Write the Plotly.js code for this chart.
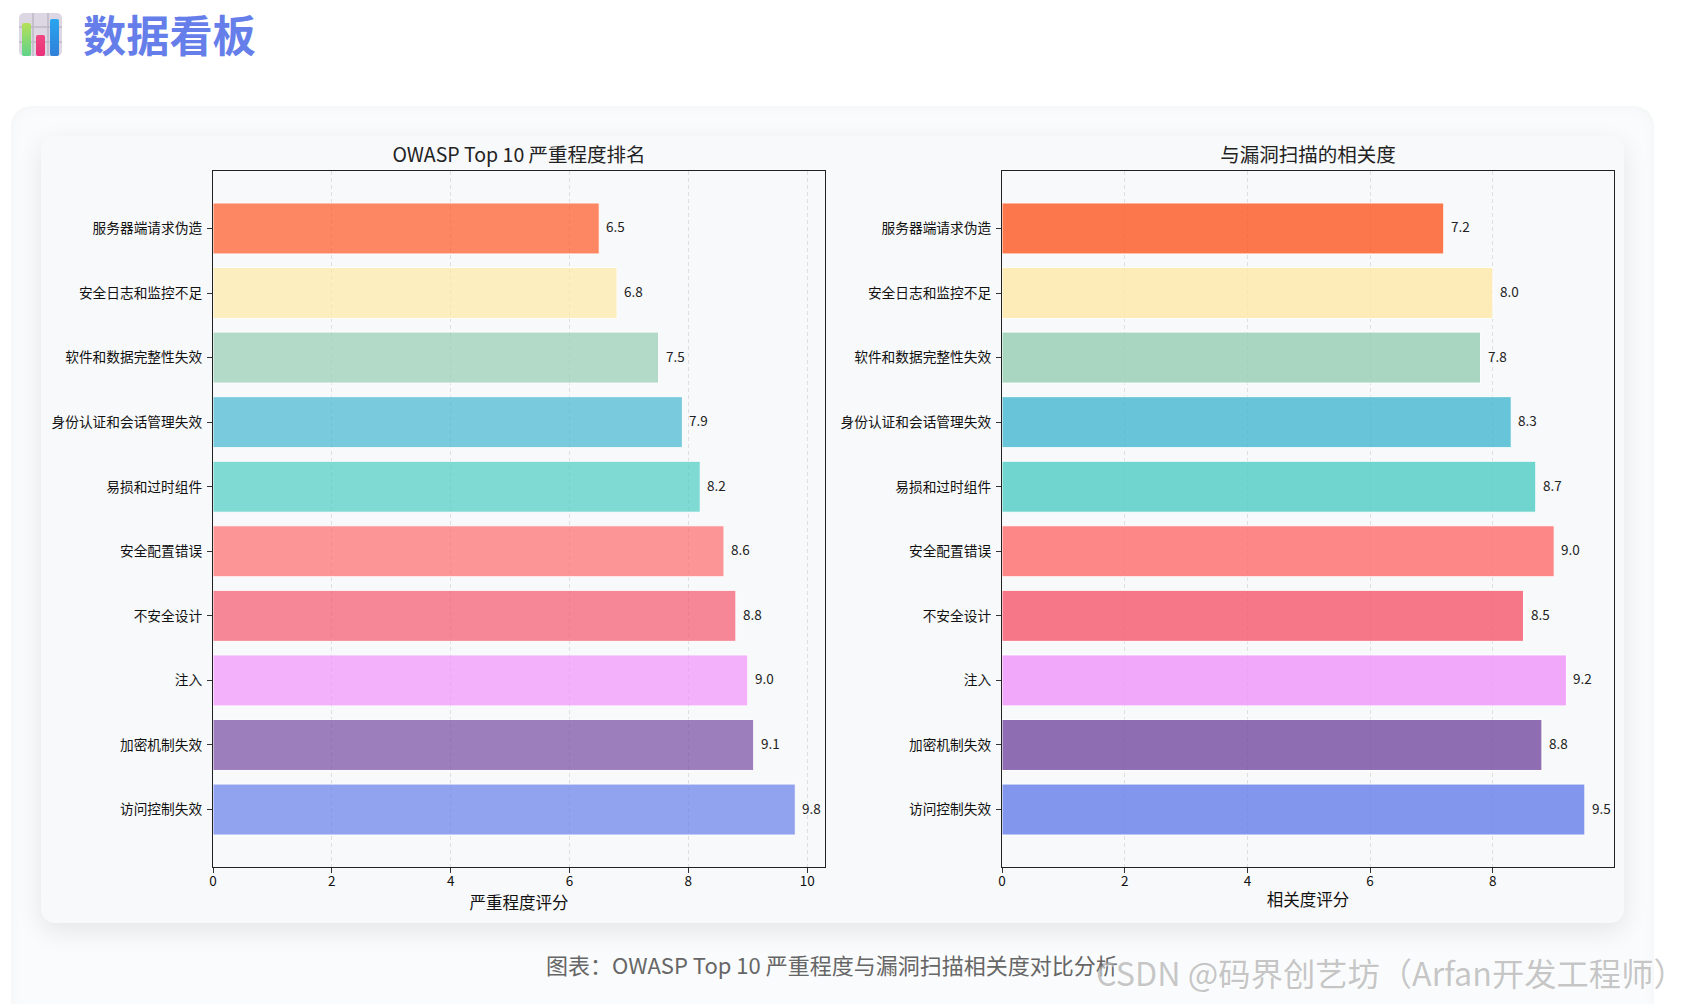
<!DOCTYPE html>
<html>
<head>
<meta charset="utf-8">
<script src="https://cdn.plot.ly/plotly-3.0.1.min.js"></script>
<style>
  html, body { margin: 0; padding: 0; background: #fff; width: 1689px; height: 1004px; overflow: hidden;
    font-family: "Noto Sans CJK SC", "Noto Sans", sans-serif; }
  #icon { position: absolute; left: 19px; top: 13px; }
  h1 { position: absolute; left: 83px; top: -1px; margin: 0; font-size: 43.2px; line-height: 68px; font-weight: 700; color: #667eea; }
  #panel { position: absolute; left: 11px; top: 106px; width: 1643px; height: 930px; background: #fafbfc;
    border-radius: 20px; box-shadow: inset 0 0 14px rgba(0,0,0,0.035); }
  #card { position: absolute; left: 41px; top: 136px; width: 1583px; height: 787px; background: #f8f9fa;
    border-radius: 14px; box-shadow: 0 8px 26px rgba(0,0,0,0.09); }
  #chart_severity { position: absolute; left: 0; top: 136px; width: 840px; height: 787px; }
  #chart_relevance { position: absolute; left: 840px; top: 136px; width: 784px; height: 787px; }
  #caption { position: absolute; left: 546px; top: 948px; font-size: 22px; line-height: 32px; color: #666; white-space: nowrap; }
  #mark { position: absolute; left: 1096px; top: 948px; font-size: 32.3px; line-height: 48px; color: rgba(120,120,120,0.42);
    white-space: nowrap; text-shadow: 1px 1px 1px rgba(255,255,255,0.6); }
</style>
</head>
<body>
<svg id="icon" width="43" height="43" viewBox="0 0 43 43">
  <defs>
    <linearGradient id="g1" x1="0" y1="0" x2="0" y2="1"><stop offset="0" stop-color="#b5e05a"/><stop offset="1" stop-color="#5fd38a"/></linearGradient>
    <linearGradient id="g2" x1="0" y1="0" x2="0" y2="1"><stop offset="0" stop-color="#f0477f"/><stop offset="1" stop-color="#e8307a"/></linearGradient>
    <linearGradient id="g3" x1="0" y1="0" x2="0" y2="1"><stop offset="0" stop-color="#2aa5f0"/><stop offset="1" stop-color="#2f80d8"/></linearGradient>
  </defs>
  <rect width="43" height="43" rx="5" fill="#ddd6e3"/>
  <path d="M14 0V43M29 0V43M0 14H43M0 29H43" stroke="#bfb8c6" stroke-width="1.5"/>
  <rect x="3" y="10" width="9" height="33" rx="2" fill="url(#g1)"/>
  <rect x="17" y="22" width="9" height="21" rx="2" fill="url(#g2)"/>
  <rect x="31" y="6" width="9" height="37" rx="2" fill="url(#g3)"/>
</svg>
<h1>数据看板</h1>
<div id="panel"></div>
<div id="card"></div>
<div id="chart_severity"></div>
<div id="chart_relevance"></div>
<div id="caption">图表：OWASP Top 10 严重程度与漏洞扫描相关度对比分析</div>
<div id="mark">CSDN @码界创艺坊（Arfan开发工程师）</div>

<script>
var categories = ['访问控制失效', '加密机制失效', '注入', '不安全设计', '安全配置错误',
                  '易损和过时组件', '身份认证和会话管理失效', '软件和数据完整性失效', '安全日志和监控不足', '服务器端请求伪造'];
var severity = [9.8, 9.1, 9.0, 8.8, 8.6, 8.2, 7.9, 7.5, 6.8, 6.5];
var relevance = [9.5, 8.8, 9.2, 8.5, 9.0, 8.7, 8.3, 7.8, 8.0, 7.2];
var colors = ['#667eea', '#764ba2', '#f093fb', '#f5576c', '#ff6b6b', '#4ecdc4', '#45b7d1', '#96ceb4', '#ffeaa7', '#ff5722'];
var xticksLeft = [0, 2, 4, 6, 8, 10];
var xticksRight = [0, 2, 4, 6, 8];

var fontName = '"Noto Sans CJK SC", "Noto Sans", sans-serif';

function drawBars(div, values, opacity, title, xtitle, xticks, xmax, margin) {
    var data = [{
        type: 'bar',
        orientation: 'h',
        y: categories,
        x: values,
        width: 0.79,
        marker: { color: colors, opacity: opacity, line: { color: '#ffffff', width: 1 } }
    }];
    // value labels sit a bit higher than the bar centre, so annotations rather than bar text
    var labels = values.map(function (v, i) {
        return {
            x: v, y: categories[i], xref: 'x', yref: 'y',
            text: v.toFixed(1), showarrow: false,
            xanchor: 'left', yanchor: 'middle', xshift: 5, yshift: 2,
            font: { size: 13.5, color: '#222' }
        };
    });
    var layout = {
        width: div === 'chart_severity' ? 840 : 784,
        height: 787,
        margin: margin,
        showlegend: false,
        paper_bgcolor: 'rgba(0,0,0,0)',
        plot_bgcolor: 'rgba(0,0,0,0)',
        font: { family: fontName, color: '#111' },
        annotations: labels,
        title: { text: title, font: { size: 19.5, color: '#222' }, x: 0.5, xref: 'paper', xanchor: 'center',
                 y: 1 - 19 / 787, yref: 'container', yanchor: 'middle' },
        xaxis: {
            title: { text: xtitle, font: { size: 16.5, color: '#111' }, standoff: 5 },
            range: [0, xmax],
            tickvals: xticks,
            ticks: 'outside', ticklen: 5, tickcolor: '#333', ticklabelstandoff: -3,
            tickfont: { size: 13.5, color: '#111' },
            showgrid: true, griddash: '4px,3px', gridcolor: 'rgba(0,0,0,0.1)', gridwidth: 1,
            zeroline: false,
            showline: true, linecolor: '#222', linewidth: 1.3, mirror: true
        },
        yaxis: {
            type: 'category',
            range: [-0.89, 9.89],
            ticks: 'outside', ticklen: 5, tickcolor: '#333', ticklabelstandoff: 2,
            tickfont: { size: 13.7, color: '#111' },
            showgrid: false, zeroline: false,
            showline: true, linecolor: '#222', linewidth: 1.3, mirror: true
        }
    };
    Plotly.newPlot(div, data, layout, { displayModeBar: false });
}

drawBars('chart_severity', severity, 0.7, 'OWASP Top 10 严重程度排名', '严重程度评分', xticksLeft, 10.3,
         { l: 213, r: 14.5, t: 34.5, b: 56.3 });
drawBars('chart_relevance', relevance, 0.8, '与漏洞扫描的相关度', '相关度评分', xticksRight, 9.975,
         { l: 162, r: 10, t: 34.5, b: 56.3 });
</script>
</body>
</html>
